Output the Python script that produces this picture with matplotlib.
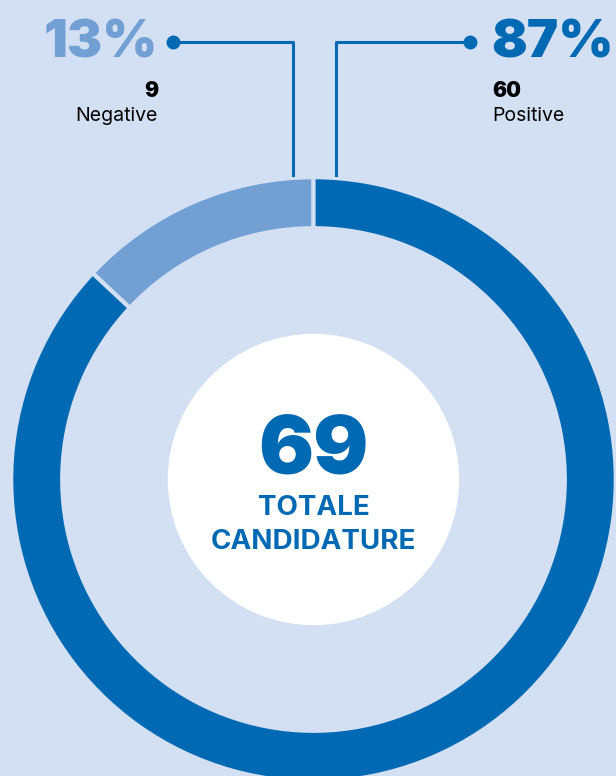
import numpy as np
import matplotlib.pyplot as plt

labels = ['Negative', 'Positive']
counts = [9, 60]
colors = ['#72a0d5', '#0069b4']
total = sum(counts)
pcts = [round(100 * c / total) for c in counts]

bg = '#d3dff2'
W, H = 616, 776
fam = 'Inter'

fig = plt.figure(figsize=(W / 100, H / 100), dpi=100, facecolor=bg)
ax = fig.add_axes([0, 0, 1, 1])
ax.set_xlim(0, W)
ax.set_ylim(0, H)
ax.set_aspect('equal')
ax.axis('off')
ax.set_facecolor(bg)

cx, cy = 313.5, H - 479.5
# edge line eats ~1.5px on each side, so pad radius and width
ax.pie(counts, colors=colors, startangle=90, counterclock=True,
       center=(cx, cy), radius=302.3,
       wedgeprops=dict(width=51, edgecolor=bg, linewidth=3))
ax.set_xlim(0, W)
ax.set_ylim(0, H)

# white inner disc
ax.add_patch(plt.Circle((cx, cy), 145, color='white', zorder=3))

ax.text(cx, H - 473, str(total), ha='center', va='baseline', fontsize=59,
        fontfamily=fam, fontweight='black', color='#0069b4', zorder=4)
ax.text(cx, H - 515, 'TOTALE', ha='center', va='baseline', fontsize=20,
        fontfamily=fam, fontweight='bold', color='#0069b4', zorder=4)
ax.text(cx, H - 549, 'CANDIDATURE', ha='center', va='baseline', fontsize=20,
        fontfamily=fam, fontweight='bold', color='#0069b4', zorder=4)

# leaders
line_y = H - 41.5
end_y = H - 175
lc = '#0069b4'
ax.plot([173, 293, 293], [line_y, line_y, end_y], color=lc, lw=2.2)
ax.plot([470, 336, 336], [line_y, line_y, end_y], color=lc, lw=2.2)
ax.plot([173, 470], [line_y, line_y], 'o', color=lc, ms=9, lw=0)

# labels
ax.text(158, H - 58, f'{pcts[0]}%', ha='right', va='baseline', fontsize=38,
        fontfamily=fam, fontweight='black', color=colors[0])
ax.text(158, H - 97, str(counts[0]), ha='right', va='baseline', fontsize=15,
        fontfamily=fam, fontweight='black', color='black')
ax.text(158, H - 121, labels[0], ha='right', va='baseline', fontsize=14,
        fontfamily=fam, color='black')

ax.text(491, H - 58, f'{pcts[1]}%', ha='left', va='baseline', fontsize=38,
        fontfamily=fam, fontweight='black', color=colors[1])
ax.text(492, H - 97, str(counts[1]), ha='left', va='baseline', fontsize=15,
        fontfamily=fam, fontweight='black', color='black')
ax.text(492, H - 121, labels[1], ha='left', va='baseline', fontsize=14,
        fontfamily=fam, color='black')

fig.savefig('out.png', dpi=100, facecolor=bg)
